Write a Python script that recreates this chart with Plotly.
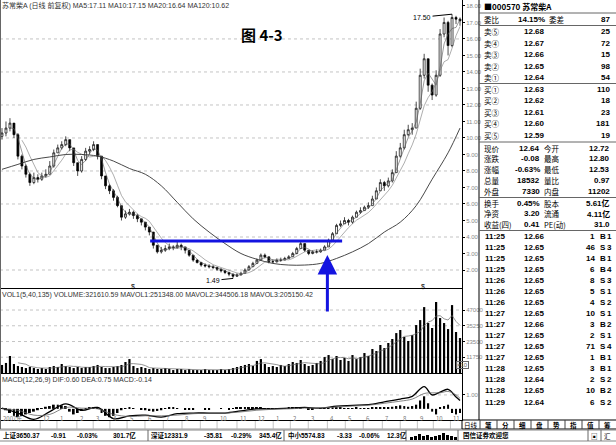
import pandas as pd
import plotly.graph_objects as go
from plotly.subplots import make_subplots

W, H = 616, 445

# ---------------------------------------------------------------
# data (one bar ~ a few trading days)
# ---------------------------------------------------------------
closes = [10.3, 10.6, 10.9, 10.2, 8.9, 8.3, 7.8, 7.3, 7.6, 7.5,
          7.7, 7.8, 8.3, 9.1, 9.4, 9.6, 9.9, 9.4, 8.5, 8.0,
          8.7, 9.2, 9.3, 9.6, 8.9, 7.7, 7.1, 6.8, 6.4, 5.9,
          5.2, 5.4, 5.5, 5.3, 5.1, 4.9, 4.6, 4.3, 3.5, 3.1,
          3.2, 3.3, 3.4, 3.35, 3.5, 3.4, 3.2, 2.9, 2.6, 2.45,
          2.3, 2.25, 2.2, 2.15, 2.05, 1.95, 1.85, 1.75, 1.62, 1.7,
          1.8, 2.0, 2.2, 2.4, 2.6, 2.9, 2.8, 2.5, 2.5, 2.6,
          2.6, 2.7, 2.8, 3.0, 3.3, 3.6, 3.2, 3.0, 3.1, 3.1,
          3.2, 3.4, 3.8, 4.2, 4.7, 4.8, 5.0, 4.9, 5.2, 5.5,
          5.6, 5.8, 5.9, 6.3, 6.8, 7.3, 7.1, 7.4, 7.9, 8.9,
          9.4, 10.2, 10.5, 10.6, 11.8, 13.8, 14.8, 13.2, 12.6, 13.8,
          16.3, 17.0, 15.6, 17.3, 17.2, 17.1]
highs = [10.6, 11.0, 11.2, 10.9, 10.3, 9.0, 8.4, 7.9, 7.9, 7.8,
         7.9, 8.1, 8.6, 9.3, 9.6, 9.8, 10.1, 9.9, 9.4, 8.5,
         8.9, 9.4, 9.5, 9.8, 9.6, 8.9, 7.7, 7.2, 6.9, 6.5,
         5.9, 5.6, 5.7, 5.6, 5.4, 5.1, 4.9, 4.6, 4.3, 3.5,
         3.4, 3.5, 3.6, 3.5, 3.7, 3.6, 3.4, 3.2, 2.9, 2.65,
         2.5, 2.4, 2.35, 2.3, 2.2, 2.1, 2.0, 1.9, 1.78, 1.8,
         1.9, 2.1, 2.3, 2.5, 2.7, 3.0, 3.0, 2.8, 2.65, 2.7,
         2.75, 2.8, 2.9, 3.1, 3.4, 3.7, 3.6, 3.2, 3.2, 3.25,
         3.3, 3.5, 3.9, 4.3, 4.8, 5.0, 5.2, 5.1, 5.3, 5.6,
         5.8, 5.9, 6.1, 6.5, 7.0, 7.5, 7.4, 7.6, 8.1, 9.2,
         9.7, 10.5, 10.8, 10.9, 12.2, 14.2, 15.1, 14.6, 13.3, 14.1,
         16.6, 17.3, 17.1, 17.5, 17.4, 17.3]
lows = [9.9, 10.1, 10.4, 10.0, 8.7, 8.1, 7.6, 7.1, 7.2, 7.3,
        7.4, 7.6, 7.8, 8.2, 9.1, 9.3, 9.5, 9.2, 8.3, 7.7,
        7.9, 8.6, 9.0, 9.2, 8.7, 7.5, 6.9, 6.6, 6.2, 5.8,
        5.0, 5.1, 5.3, 5.1, 4.9, 4.7, 4.4, 4.1, 3.3, 3.0,
        3.0, 3.1, 3.2, 3.2, 3.3, 3.2, 3.0, 2.8, 2.5, 2.4,
        2.2, 2.15, 2.1, 2.05, 1.95, 1.85, 1.75, 1.62, 1.49, 1.58,
        1.68, 1.78, 1.98, 2.2, 2.4, 2.6, 2.7, 2.4, 2.4, 2.45,
        2.5, 2.6, 2.7, 2.8, 2.95, 3.3, 3.1, 2.9, 2.95, 3.0,
        3.05, 3.2, 3.4, 3.8, 4.2, 4.6, 4.8, 4.7, 4.8, 5.2,
        5.4, 5.6, 5.7, 5.9, 6.3, 6.8, 6.8, 7.0, 7.3, 7.9,
        8.8, 9.3, 10.1, 10.2, 10.6, 11.7, 13.6, 12.8, 12.3, 12.5,
        13.7, 16.1, 15.0, 15.5, 16.9, 16.8]
first_open = 10.1

volumes = [6000, 7500, 12700, 6700, 5200, 4500, 3700, 4500, 3700, 3000,
           3700, 3000, 4500, 5200, 4500, 6700, 5200, 4500, 3700, 4500,
           3700, 4500, 4500, 5200, 6000, 4500, 3700, 3700, 4500, 5200,
           6000, 8200, 10400, 5200, 3700, 4500, 3700, 3000, 3700, 3000,
           3000, 3700, 3000, 2200, 3000, 3000, 2200, 3000, 2200, 2200,
           2200, 3000, 2200, 2200, 2200, 3000, 2200, 3000, 3700, 4500,
           5200, 6000, 6700, 5200, 9000, 10400, 6700, 4500, 5200, 4500,
           6000, 5200, 6700, 8200, 7500, 9700, 6700, 5200, 6000, 7500,
           9000, 11900, 13400, 10400, 12700, 9700, 11200, 9000, 13400, 10400,
           11900, 14900, 12700, 17900, 16400, 20900, 18600, 22400, 25400, 29800,
           32100, 26900, 23900, 28300, 35800, 39500, 49200, 37300, 33600, 53000,
           41000, 37300, 32800, 50700, 30600, 26100]

macd_hist = [0.05, -0.1, -0.3, -0.5, -0.6, -0.5, -0.4, -0.3, -0.2, -0.1,
             0.05, 0.15, 0.2, 0.3, 0.3, 0.25, 0.2, -0.2, -0.4, -0.3,
             -0.15, 0.05, 0.1, 0.1, 0.05, -0.3, -0.5, -0.6, -0.5, -0.3,
             -0.1, 0.05, 0.1, 0.05, 0.0, -0.05, -0.1, -0.15, -0.2, -0.15,
             -0.1, 0.05, 0.1, 0.1, 0.05, 0.0, -0.05, -0.05, -0.05, 0.0,
             0.0, -0.02, -0.02, 0.0, 0.0, 0.02, 0.0, -0.02, 0.05, 0.08,
             0.1, 0.1, 0.12, 0.1, 0.1, 0.08, 0.03, 0.02, 0.05, 0.05,
             0.04, 0.06, 0.08, 0.1, 0.1, 0.08, 0.0, -0.05, -0.04, 0.0,
             0.02, 0.05, 0.08, 0.1, 0.1, 0.08, 0.06, 0.05, 0.06, 0.07,
             0.05, 0.04, 0.05, 0.08, 0.1, 0.12, 0.1, 0.12, 0.15, 0.2,
             0.25, 0.2, 0.15, 0.2, 0.3, 0.6, 0.9, 0.4, -0.2, -0.4,
             0.1, 0.2, 0.3, -0.3, -0.4, -0.3]

ma120_idx = [0, 4, 8, 12, 16, 20, 24, 28, 32, 36, 40, 44, 48, 52, 56,
             60, 64, 68, 72, 76, 80, 84, 88, 92, 96, 100, 104, 108, 112, 115]
ma120 = [8.1, 8.4, 8.7, 8.85, 9.0, 9.0, 8.9, 8.6, 8.15, 7.8,
         7.1, 6.1, 5.1, 4.3, 3.6, 3.0, 2.65, 2.4, 2.3, 2.3,
         2.4, 2.7, 3.1, 3.6, 4.3, 4.9, 5.9, 7.5, 9.1, 10.6]

macd_idx = [0, 4, 8, 12, 16, 20, 24, 28, 32, 36, 40, 44, 48, 52, 56, 60, 64,
            68, 72, 76, 80, 84, 88, 92, 96, 100, 103, 106, 108, 110, 112, 114, 115]
dif = [0.05, -0.3, -0.75, -0.2, 0.35, -0.1, 0.1, -0.7, -0.5, -0.45,
       -0.6, -0.35, -0.3, -0.3, -0.3, -0.15, 0.0, 0.0, 0.05, 0.1,
       0.05, 0.2, 0.25, 0.3, 0.5, 0.7,
       0.9, 1.6, 1.0, 1.2, 1.4, 0.85, 0.6]
dea = [0.0, -0.1, -0.45, -0.4, 0.1, 0.05, 0.0, -0.4, -0.55, -0.5,
       -0.5, -0.45, -0.35, -0.3, -0.3, -0.22, -0.1, -0.03, 0.0, 0.05,
       0.07, 0.12, 0.2, 0.26, 0.4, 0.55,
       0.7, 1.1, 1.15, 1.15, 1.25, 1.0, 0.75]

price_ticks = list(range(2, 19))
price_grid = [2, 4, 6, 8, 10, 12, 14, 16]
vol_ticks = [11750, 23500, 35250, 47000]
vol_ticktext = ["11750", "23500", "35250", "47000"]

month_pos = [-0.5, 9.6, 13.8, 18.8, 22.9, 27.1, 31.4, 35.9, 40.5, 45.2, 49.8, 54.0,
             59.0, 63.6, 68.1, 72.4, 76.9, 81.7, 86.2, 90.7, 95.5, 100.0, 104.3,
             108.3, 112.6]
month_labels = ["2007年", "12", "1", "2", "3", "4", "5", "6", "7", "8", "9", "10",
                "11", "12", "1", "2", "3", "4", "5", "6", "7", "8", "9", "10", "11"]

low_bar, low_value = 58, 1.49
high_bar, high_value = 113, 17.50
neck_level = 3.76          # blue horizontal line
neck_from, neck_to = 37.2, 85.4
breakout_bar, breakout_price = 81.7, 2.91

title_text = "苏常柴A (日线 前复权) MA5:17.11 MA10:17.15 MA20:16.64 MA120:10.62"
vol_text = ("VOL1(5,40,135) VOLUME:321610.59 MAVOL1:251348.00 "
            "MAVOL2:344506.18 MAVOL3:205150.42")
macd_text = "MACD(12,26,9) DIF:0.60 DEA:0.75 MACD:-0.14"

# quote panel on the right
quote_header = "■000570 苏常柴A"
ratio_row = ("委比", "14.15%", "委差", "87")
sell_names = ["卖⑤", "卖④", "卖③", "卖②", "卖①"]
sell_prices = ["12.68", "12.67", "12.66", "12.65", "12.64"]
sell_vols = ["25", "72", "15", "98", "54"]
buy_names = ["买①", "买②", "买③", "买④", "买⑤"]
buy_prices = ["12.63", "12.62", "12.61", "12.60", "12.59"]
buy_vols = ["110", "18", "23", "181", "19"]
stat_rows = [("现价", "12.64", "今开", "12.72"),
             ("涨跌", "-0.08", "最高", "12.80"),
             ("涨幅", "-0.63%", "最低", "12.53"),
             ("总量", "18532", "量比", "0.97"),
             ("外盘", "7330", "内盘", "11202")]
stat_rows2 = [("换手", "0.45%", "股本", "5.61亿"),
              ("净资", "3.20", "流通", "4.11亿"),
              ("收益(四)", "0.41", "PE(动)", "31.0")]
tick_times = ["11:25", "11:25", "11:25", "11:25", "11:26", "11:26", "11:26", "11:27",
              "11:27", "11:27", "11:27", "11:27", "11:28", "11:28", "11:28", "11:29"]
tick_prices = ["12.66", "12.65", "12.65", "12.65", "12.65", "12.65", "12.65", "12.65",
               "12.66", "12.65", "12.65", "12.65", "12.65", "12.64", "12.65", "12.64"]
tick_vols = ["1", "46", "14", "6", "8", "5", "4", "10", "3", "2", "71", "1", "3", "2", "10", "6"]
tick_sides = ["B", "S", "B", "B", "S", "S", "S", "S", "B", "S", "S", "B", "B", "S", "B", "S"]
tick_counts = ["1", "3", "1", "4", "3", "1", "2", "1", "2", "1", "4", "1", "1", "2", "2", "2"]
tab_names = ["笔", "分", "细", "盘", "势", "指", "值", "筹"]

status_items = [("上证3650.37", 2), ("-0.91", 50), ("-0.03%", 76), ("301.7亿", 112),
                ("深证12331.9", 150), ("-35.81", 203), ("-0.29%", 230), ("345.4亿", 258),
                ("中小5574.83", 287), ("-3.33", 336), ("-0.06%", 358), ("12.3亿", 386),
                ("国信证券欢迎您", 462)]
status_bars = [3, 4, 6, 4, 5, 3, 4, 5, 7, 5, 4, 3]

FONT = "Liberation Sans, Noto Sans CJK SC, sans-serif"
CJK = "Noto Sans CJK SC, sans-serif"


def px(x):
    return x / W


def py(y):
    return 1 - y / H


# ---------------------------------------------------------------
# derived series
# ---------------------------------------------------------------
idx = list(range(len(closes)))
opens = [first_open] + closes[:-1]
hi = [max(h, o, c) for h, o, c in zip(highs, opens, closes)]
lo = [min(l, o, c) for l, o, c in zip(lows, opens, closes)]
ma_fast = pd.Series(closes).rolling(3).mean()
ma_slow = pd.Series(closes).rolling(6).mean()
vol_ma = pd.Series(volumes).rolling(5).mean()

fig = make_subplots(rows=3, cols=1, shared_xaxes=True, vertical_spacing=0)

# price
fig.add_trace(go.Candlestick(
    x=idx, open=opens, high=hi, low=lo, close=closes,
    increasing=dict(line=dict(color="black", width=0.7), fillcolor="white"),
    decreasing=dict(line=dict(color="black", width=0.7), fillcolor="black"),
    whiskerwidth=0, hoverinfo="skip", showlegend=False), row=1, col=1)
fig.add_trace(go.Scatter(x=idx, y=ma_fast, mode="lines",
                         line=dict(color="#555", width=0.6)), row=1, col=1)
fig.add_trace(go.Scatter(x=idx, y=ma_slow, mode="lines",
                         line=dict(color="#777", width=0.6)), row=1, col=1)
fig.add_trace(go.Scatter(x=ma120_idx, y=ma120, mode="lines",
                         line=dict(color="#333", width=0.9, shape="spline")), row=1, col=1)

# volume
fig.add_trace(go.Bar(x=idx, y=volumes, width=0.55,
                     marker=dict(color="black", line=dict(width=0))), row=2, col=1)
fig.add_trace(go.Scatter(x=idx, y=vol_ma, mode="lines",
                         line=dict(color="#666", width=0.7)), row=2, col=1)

# macd
fig.add_trace(go.Bar(x=idx, y=macd_hist, width=0.5,
                     marker=dict(color="black", line=dict(width=0))), row=3, col=1)
fig.add_trace(go.Scatter(x=macd_idx, y=dif, mode="lines",
                         line=dict(color="black", width=1.3, shape="spline")), row=3, col=1)
fig.add_trace(go.Scatter(x=macd_idx, y=dea, mode="lines",
                         line=dict(color="#666", width=0.8, shape="spline")), row=3, col=1)

fig.update_layout(
    width=W, height=H, margin=dict(l=0, r=0, t=0, b=0),
    paper_bgcolor="white", plot_bgcolor="white", showlegend=False,
    font=dict(family=FONT, size=7, color="#222"),
    xaxis_rangeslider_visible=False,
)

fig.update_xaxes(range=[-0.5, 115.5], domain=[0, 0.75], showgrid=False, zeroline=False,
                 showline=True, linecolor="black", linewidth=1,
                 showticklabels=False, ticks="")

axis_common = dict(side="right", ticks="outside", ticklen=2, tickcolor="black",
                   tickfont=dict(size=6, color="#888"), showline=True,
                   linecolor="black", linewidth=1, showgrid=False, zeroline=False)
fig.update_yaxes(row=1, col=1, domain=[py(288), py(0)], range=[0.91, 18.36],
                 tickvals=price_ticks, ticktext=[f"{v:.2f}" for v in price_ticks],
                 **axis_common)
fig.update_yaxes(row=2, col=1, domain=[py(373), py(289)], range=[0, 62700],
                 tickvals=vol_ticks, ticktext=vol_ticktext, **axis_common)
fig.update_yaxes(row=3, col=1, domain=[py(420), py(374)], range=[-0.8, 2.5],
                 tickvals=[1.0], ticktext=["1.00"], **axis_common)

dot = dict(color="#aaa", width=0.7, dash="dot")
for v in price_grid:
    fig.add_shape(type="line", xref="x", yref="y", x0=-0.5, x1=115.5, y0=v, y1=v,
                  line=dot, layer="below")
for v in vol_ticks:
    fig.add_shape(type="line", xref="x2", yref="y2", x0=-0.5, x1=115.5, y0=v, y1=v,
                  line=dot, layer="below")
fig.add_shape(type="line", xref="x3", yref="y3", x0=-0.5, x1=115.5, y0=1.0, y1=1.0,
              line=dot, layer="below")

# blue neckline and arrow
fig.add_shape(type="line", xref="x", yref="y", x0=neck_from, x1=neck_to,
              y0=neck_level, y1=neck_level, line=dict(color="#1414e0", width=3))
fig.add_annotation(x=breakout_bar, y=breakout_price, xref="x", yref="y", text="",
                   showarrow=True, ax=0, ay=58, arrowhead=2, arrowsize=1.3,
                   arrowwidth=3, arrowcolor="#1414e0")

# high / low marks
fig.add_annotation(x=high_bar, y=high_value, xref="x", yref="y", text=f"{high_value:.2f}",
                   showarrow=True, ax=-30, ay=3, arrowhead=0, arrowwidth=1,
                   arrowcolor="black", font=dict(size=7, color="black"))
fig.add_annotation(x=low_bar, y=low_value, xref="x", yref="y", text=f"{low_value:.2f}",
                   showarrow=True, ax=-20, ay=2, arrowhead=0, arrowwidth=1,
                   arrowcolor="black", font=dict(size=7, color="black"))
for b in [32.9, 105.8]:
    fig.add_annotation(x=b, y=1.0, xref="x", yref="y", text="$", showarrow=False,
                       font=dict(size=7, color="black"))


def label(x, y, text, size=8, anchor="left", color="black", bold=False, family=FONT):
    fig.add_annotation(x=px(x), y=py(y), xref="paper", yref="paper",
                       text=f"<b>{text}</b>" if bold else text, showarrow=False,
                       xanchor=anchor, yanchor="middle", borderpad=0,
                       font=dict(size=size, color=color, family=family))


def hline(x0, x1, y, color="black", width=1, dash=None):
    fig.add_shape(type="line", xref="paper", yref="paper", x0=px(x0), x1=px(x1),
                  y0=py(y), y1=py(y), line=dict(color=color, width=width, dash=dash))


def vline(x, y0, y1, color="black", width=1):
    fig.add_shape(type="line", xref="paper", yref="paper", x0=px(x), x1=px(x),
                  y0=py(y0), y1=py(y1), line=dict(color=color, width=width))


# titles and indicator captions
label(1, 5, title_text, size=7, color="#333")
label(262, 35, "图 4-3", size=15, anchor="center", bold=True, family=CJK)
label(1, 295, vol_text, size=7, color="#333")
label(1, 380, macd_text, size=7, color="#333")
fig.add_annotation(x=px(469), y=py(369), xref="paper", yref="paper", text="×10",
                   showarrow=False, font=dict(size=6, color="#666"),
                   bordercolor="#666", borderwidth=1, borderpad=0)

# date bar
hline(0, 462, 429, color="#999")
for pos, lab in zip(month_pos, month_labels):
    fig.add_shape(type="line", xref="x3", yref="paper", x0=pos, x1=pos,
                  y0=py(429), y1=py(421), line=dict(color="#aaa", width=0.7))
    fig.add_annotation(x=pos, y=py(425), xref="x3", yref="paper", text=lab,
                       showarrow=False, xanchor="left", xshift=1,
                       font=dict(size=6, color="#777", family=CJK))

# quote panel
CJK_SIZE = 7.5
BOOK_SIZE = 7.5
NUM_SIZE = 8
LX = 483
vline(479, 0, 420)
vline(0.5, 0, 429, color="#666")
label(LX, 7, quote_header, size=8, bold=True, family=CJK)
hline(479, 616, 13, color="#666")
name, val, name2, val2 = ratio_row
label(LX, 19, name, size=CJK_SIZE, family=CJK)
label(546, 19, val, size=NUM_SIZE, anchor="right", bold=True)
label(548, 19, name2, size=CJK_SIZE, family=CJK)
label(611, 19, val2, size=NUM_SIZE, anchor="right", bold=True)
hline(479, 616, 25.5, color="#666")

for k in range(5):
    y = 31.5 + k * 11.5
    label(LX, y, sell_names[k], size=BOOK_SIZE, family=CJK)
    label(546, y, sell_prices[k], size=NUM_SIZE, anchor="right", bold=True)
    label(611, y, sell_vols[k], size=NUM_SIZE, anchor="right", bold=True)
hline(479, 616, 83.5, color="#666")
for k in range(5):
    y = 89.5 + k * 11.5
    label(LX, y, buy_names[k], size=BOOK_SIZE, family=CJK)
    label(546, y, buy_prices[k], size=NUM_SIZE, anchor="right", bold=True)
    label(611, y, buy_vols[k], size=NUM_SIZE, anchor="right", bold=True)
hline(479, 616, 142, color="#666")

for k, (a, b, c, d) in enumerate(stat_rows):
    y = 148 + k * 10.8
    label(LX, y, a, size=CJK_SIZE, family=CJK)
    label(541, y, b, size=NUM_SIZE, anchor="right", bold=True)
    label(543, y, c, size=CJK_SIZE, family=CJK)
    label(611, y, d, size=NUM_SIZE, anchor="right", bold=True)
hline(479, 616, 197.5, color="#666")
for k, (a, b, c, d) in enumerate(stat_rows2):
    y = 203 + k * 10.8
    label(LX, y, a, size=CJK_SIZE, family=CJK)
    label(541, y, b, size=NUM_SIZE, anchor="right", bold=True)
    label(543, y, c, size=CJK_SIZE, family=CJK)
    label(611, y, d, size=NUM_SIZE, anchor="right", bold=True)
hline(479, 616, 230.5, color="#666")

for k in range(len(tick_times)):
    y = 236 + k * 11.07
    label(484, y, tick_times[k], size=NUM_SIZE, bold=True)
    label(546, y, tick_prices[k], size=NUM_SIZE, anchor="right", bold=True)
    label(596, y, tick_vols[k], size=NUM_SIZE, anchor="right", bold=True)
    label(603, y, tick_sides[k], size=NUM_SIZE, anchor="center", bold=True)
    label(613, y, tick_counts[k], size=NUM_SIZE, anchor="right", bold=True)

# tabs row
hline(462, 616, 420)
hline(462, 616, 429)
vline(462, 420, 429)
label(471, 424.5, "日线", size=6.5, anchor="center", family=CJK)
for k, t in enumerate(tab_names):
    x0 = 480 + k * 17
    vline(x0, 420, 429, color="#444")
    label(x0 + 8.5, 424.5, t, size=6.5, anchor="center", bold=True, family=CJK)

# status bar
hline(0, 616, 430, color="#888")
hline(0, 616, 441, color="#888")
for text, x in status_items:
    label(x, 435.5, text, size=6.5, bold=True, family=FONT)
for x in [148, 284, 406, 458, 588, 601]:
    vline(x, 430, 441, color="#666")
for k, h in enumerate(status_bars):
    x0 = 410 + k * 4 if k < 6 else 434 + (k - 6) * 4
    fig.add_shape(type="rect", xref="paper", yref="paper", x0=px(x0), x1=px(x0 + 3),
                  y0=py(440), y1=py(440 - h), fillcolor="black", line=dict(width=0))
label(594, 435.5, "▣", size=6.5, anchor="center", family=CJK)
label(607, 435.5, "汇", size=6.5, anchor="center", family=CJK)

fig.write_html("out.html", config={"displayModeBar": False},
               post_script="document.body.style.margin='0';document.body.style.overflow='hidden';")
